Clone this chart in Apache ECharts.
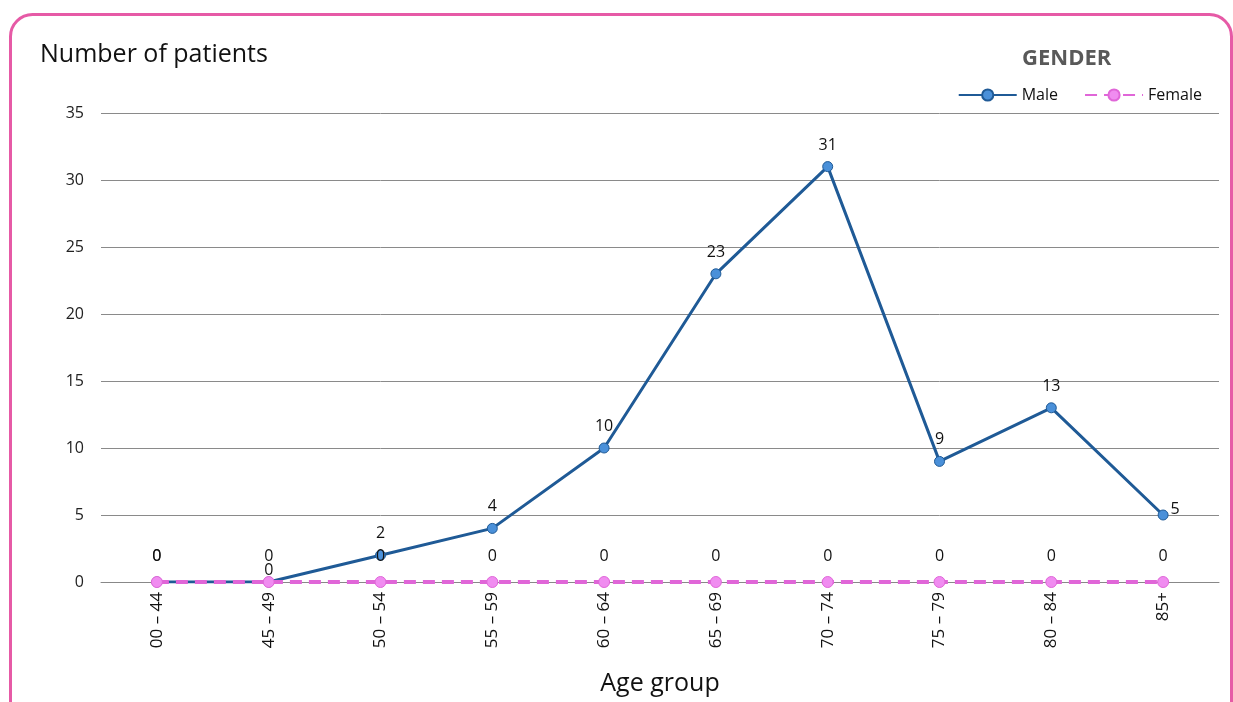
<!DOCTYPE html>
<html><head><meta charset="utf-8">
<script src="https://cdn.jsdelivr.net/npm/echarts@6/dist/echarts.min.js"></script>
<style>html,body{margin:0;padding:0;background:#fff}#c{width:1233px;height:702px}</style>
</head><body><div id="c"></div>
<script>
const categories = ['00 – 44','45 – 49','50 – 54','55 – 59','60 – 64','65 – 69','70 – 74','75 – 79','80 – 84','85+'];
const maleValues = [0,0,2,4,10,23,31,9,13,5];
const femaleValues = [0,0,0,0,0,0,0,0,0,0];
const yTicks = {min:0, max:35, interval:5};

const font = '"Open Sans", "Noto Sans", sans-serif';
const chart = echarts.init(document.getElementById('c'));

const maleData = maleValues.map((v,i)=>{
  const d = {value:v};
  if (i===0) d.label = {position:'top', distance:12.5};
  if (i===1) d.label = {position:'top', distance:-2};
  if (i===9) d.label = {position:'right', distance:2, offset:[0,-6]};
  return d;
});

chart.setOption({
  animation:false,
  backgroundColor:'#fff',
  graphic:[{
    type:'rect', left:9, top:13, silent:true, z:-10,
    shape:{width:1221, height:720, r:22},
    style:{fill:'#fff', stroke:'#E65AA6', lineWidth:3}
  },{
    type:'text', left:1022, top:48,
    style:{text:'GENDER', font:'bold 22px '+font, fill:'#595959'}
  }],
  title:{text:'Number of patients', left:35, top:37,
    textStyle:{fontFamily:font, fontSize:25, fontWeight:'normal', color:'#111'}},
  legend:{
    right:26, top:82, itemWidth:58, itemHeight:14, itemGap:26,
    textStyle:{fontFamily:font, fontSize:16, color:'#111'},
    data:['Male','Female']
  },
  grid:{left:101, right:14, top:113, bottom:120},
  xAxis:{
    type:'category', data:categories, boundaryGap:true,
    name:'Age group', nameLocation:'middle', nameGap:89,
    nameTextStyle:{fontFamily:font, fontSize:25, color:'#111'},
    axisLine:{show:true, lineStyle:{color:'#888', width:1}},
    axisTick:{show:false},
    axisLabel:{rotate:90, interval:0, fontFamily:font, fontSize:17, color:'#111', margin:10}
  },
  yAxis:{
    type:'value', min:yTicks.min, max:yTicks.max, interval:yTicks.interval,
    axisLine:{show:false}, axisTick:{show:false},
    axisLabel:{fontFamily:font, fontSize:16, color:'#222', margin:17},
    splitLine:{lineStyle:{color:'#8a8a8a', width:1}}
  },
  series:[{
    name:'Male', type:'line', data:maleData, z:3,
    symbol:'circle', symbolSize:10,
    lineStyle:{color:'#1F5A96', width:3},
    itemStyle:{color:'#4A90D9', borderColor:'#1F5A96', borderWidth:1},
    label:{show:true, position:'top', distance:8, fontFamily:font, fontSize:16, color:'#111'}
  },{
    name:'Female', type:'line', data:femaleValues, z:4,
    symbol:'circle', symbolSize:11,
    lineStyle:{color:'#E066D8', width:4, type:[12,7]},
    itemStyle:{color:'#F08CF0', borderColor:'#E066D8', borderWidth:1},
    label:{show:true, position:'top', distance:12, fontFamily:font, fontSize:16, color:'#111'}
  }]
});
</script></body></html>
